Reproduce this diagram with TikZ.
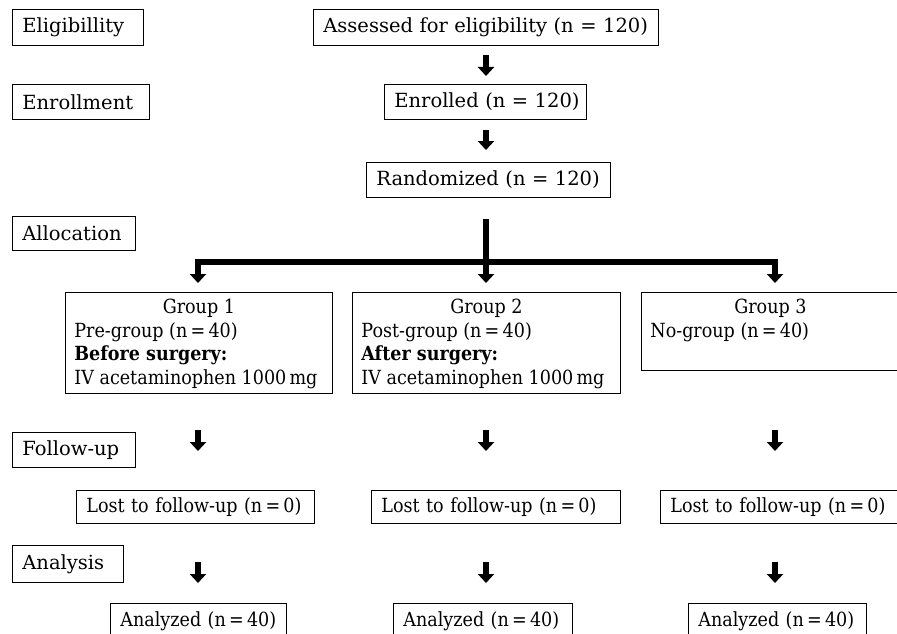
\documentclass[tikz,border=0pt]{standalone}
\usepackage{fontspec}
\setmainfont{DejaVu Serif}
\newfontfamily\condfont[FakeStretch=0.9]{DejaVu Serif}
\usetikzlibrary{arrows.meta}
\begin{document}
\begin{tikzpicture}[x=1pt,y=-1pt,
  lbl/.style={draw, line width=0.8pt, anchor=north west, inner xsep=10pt, inner ysep=0pt,
    align=left, font=\fontsize{19.5}{23.5}\selectfont},
  low/.style={lbl, font=\fontsize{19.5}{23.5}\selectfont\condfont},
  fat/.style={line width=5.5pt, -{Triangle[length=9pt,width=16pt]}},
  bar/.style={line width=5.5pt, line cap=rect}]
\useasboundingbox (0,0) rectangle (897,634);
% stage labels
\node[lbl, text width=111pt, minimum height=36pt] (elig) at (12,9) {\mbox{Eligibillity}};
\node[lbl, text width=117pt, minimum height=35pt] (enrl) at (12,84) {\mbox{Enrollment}};
\node[lbl, text width=103pt, minimum height=34pt] (alloc) at (12,216) {\mbox{Allocation}};
\node[lbl, text width=103pt, minimum height=35pt] (follow) at (12,432) {\mbox{Follow-up}};
\node[lbl, text width=91pt, minimum height=37pt] (analysis) at (12,545) {\mbox{Analysis}};
% main flow
\node[lbl, text width=325pt, minimum height=36pt] (assess) at (313,9) {\mbox{Assessed for eligibility (n = 120)}};
\node[lbl, text width=182pt, minimum height=35pt] (enrolled) at (384,84) {\mbox{Enrolled (n = 120)}};
\node[lbl, text width=224pt, minimum height=35pt] (rand) at (366,162) {\mbox{Randomized (n = 120)}};
% groups
\node[low, inner xsep=9pt] (g1) at (65,292) {\parbox[b][101pt][t]{249pt}{\vspace{5pt}{\centering\strut Group 1\par}\raggedright \mbox{Pre-group (n\,=\,40)}\\\mbox{\textbf{Before surgery:}}\\\mbox{IV acetaminophen 1000\,mg}}};
\node[low, inner xsep=9pt] (g2) at (352,292) {\parbox[b][101pt][t]{250pt}{\vspace{5pt}{\centering\strut Group 2\par}\raggedright \mbox{Post-group (n\,=\,40)}\\\mbox{\textbf{After surgery:}}\\\mbox{IV acetaminophen 1000\,mg}}};
\node[low, inner xsep=9pt] (g3) at (641,292) {\parbox[b][78pt][t]{240pt}{\vspace{5pt}{\centering\strut Group 3\par}\raggedright \mbox{No-group (n\,=\,40)}}};
% lost
\node[low, text width=218pt, minimum height=33pt] (lost1) at (76,490) {\mbox{Lost to follow-up (n\,=\,0)}};
\node[low, text width=229pt, minimum height=33pt] (lost2) at (371,490) {\mbox{Lost to follow-up (n\,=\,0)}};
\node[low, text width=220pt, minimum height=33pt] (lost3) at (660,490) {\mbox{Lost to follow-up (n\,=\,0)}};
% analyzed
\node[low, text width=156pt, minimum height=36pt] (an1) at (110,603) {\mbox{Analyzed (n\,=\,40)}};
\node[low, text width=159pt, minimum height=36pt] (an2) at (393,603) {\mbox{Analyzed (n\,=\,40)}};
\node[low, text width=158pt, minimum height=36pt] (an3) at (688,603) {\mbox{Analyzed (n\,=\,40)}};
% coordinates
\coordinate (a1s) at (486,55);   \coordinate (a1e) at (486,76);
\coordinate (a2s) at (486,130);  \coordinate (a2e) at (486,150);
\coordinate (top) at (486,222);  \coordinate (split) at (486,262);
\coordinate (L) at (198,262);    \coordinate (R) at (775,262);
\coordinate (Le) at (198,283);   \coordinate (Me) at (486,283);  \coordinate (Re) at (775,283);
\coordinate (f1s) at (198,430);  \coordinate (f1e) at (198,451);
\coordinate (f2s) at (486,430);  \coordinate (f2e) at (486,451);
\coordinate (f3s) at (775,430);  \coordinate (f3e) at (775,451);
\coordinate (h1s) at (198,562);  \coordinate (h1e) at (198,583);
\coordinate (h2s) at (486,562);  \coordinate (h2e) at (486,583);
\coordinate (h3s) at (775,562);  \coordinate (h3e) at (775,583);
% arrows
\draw[fat] (a1s) -- (a1e);
\draw[fat] (a2s) -- (a2e);
\draw[bar] (top) -- (split);
\draw[bar] (L) -- (R);
\draw[fat] (L) -- (Le);
\draw[fat] (split) -- (Me);
\draw[fat] (R) -- (Re);
\draw[fat] (f1s) -- (f1e);
\draw[fat] (f2s) -- (f2e);
\draw[fat] (f3s) -- (f3e);
\draw[fat] (h1s) -- (h1e);
\draw[fat] (h2s) -- (h2e);
\draw[fat] (h3s) -- (h3e);
\end{tikzpicture}
\end{document}
